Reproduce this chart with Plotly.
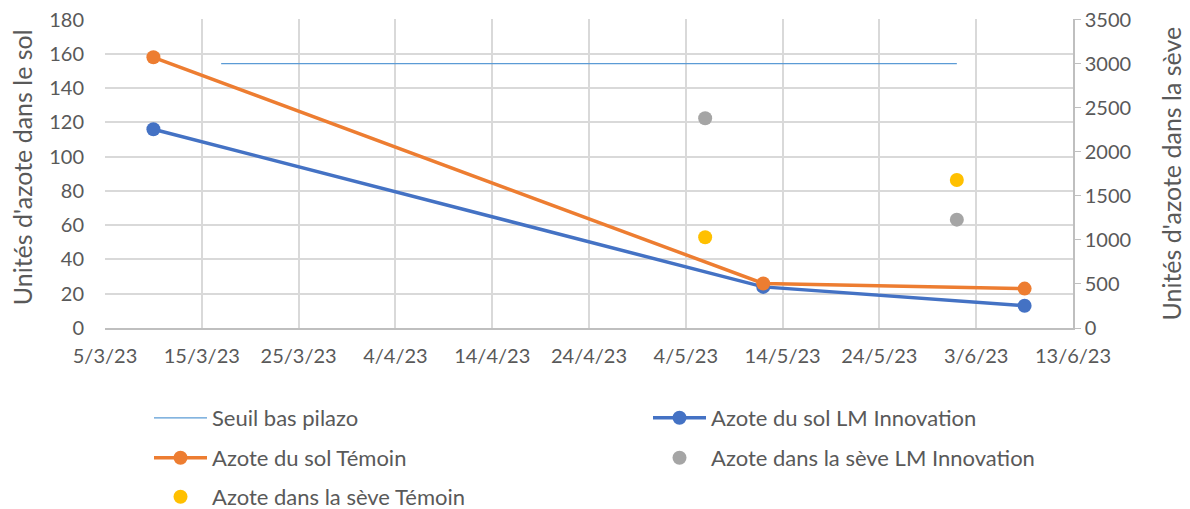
import plotly.graph_objects as go

# dates of the soil samples and sap samples
soil_dates = ["2023-03-10", "2023-05-12", "2023-06-08"]
soil_lm = [116, 24, 13]
soil_temoin = [158, 26, 23]

sap_dates = ["2023-05-06", "2023-06-01"]
sap_lm = [2380, 1230]
sap_temoin = [1030, 1680]

seuil_dates = ["2023-03-17", "2023-06-01"]
seuil_vals = [3000, 3000]

BLUE = "#4472C4"
ORANGE = "#ED7D31"
GREY = "#A5A5A5"
YELLOW = "#FFC000"
TXT = "#595959"
GRID = "#D9D9D9"

W, H = 1190, 509
OFF = 8  # page body margin
PAD = 1.002  # tiny headroom so the top gridline / labels are drawn

fig = go.Figure()
fig.add_trace(go.Scatter(x=seuil_dates, y=seuil_vals, name="Seuil bas pilazo", mode="lines",
                         line=dict(color="#5B9BD5", width=1.2), yaxis="y2", legend="legend"))
fig.add_trace(go.Scatter(x=soil_dates, y=soil_lm, name="Azote du sol LM Innovation", mode="lines+markers",
                         line=dict(color=BLUE, width=3.5), marker=dict(size=14, color=BLUE), legend="legend2"))
fig.add_trace(go.Scatter(x=soil_dates, y=soil_temoin, name="Azote du sol Témoin", mode="lines+markers",
                         line=dict(color=ORANGE, width=3.5), marker=dict(size=14, color=ORANGE), legend="legend3"))
fig.add_trace(go.Scatter(x=sap_dates, y=sap_lm, name="Azote dans la sève LM Innovation", mode="markers",
                         marker=dict(size=14, color=GREY), yaxis="y2", legend="legend4"))
fig.add_trace(go.Scatter(x=sap_dates, y=sap_temoin, name="Azote dans la sève Témoin", mode="markers",
                         marker=dict(size=14, color=YELLOW), yaxis="y2", legend="legend5"))

# one legend box per entry so the two-column grid matches the reference
leg = dict(orientation="v", xanchor="left", yanchor="middle", xref="container", yref="container",
           itemwidth=53, font=dict(size=22, color=TXT), bgcolor="rgba(0,0,0,0)")
col1, col2 = 141 / W, 640 / W
row1, row2, row3 = [(H - (r - OFF)) / H for r in (418, 458, 497)]

fig.update_layout(
    width=W, height=H,
    template="plotly_white",
    showlegend=True,
    font=dict(family="Lato, Open Sans, sans-serif", size=20, color=TXT),
    margin=dict(l=105 - OFF, r=117 + OFF, t=19 - OFF, b=181 + OFF, autoexpand=False),
    plot_bgcolor="white", paper_bgcolor="white",
    xaxis=dict(type="date", range=["2023-03-05", "2023-06-13"], tick0="2023-03-05", dtick=10 * 86400000,
               tickformat="%-d/%-m/%y", showgrid=True, gridcolor=GRID, gridwidth=1.5, automargin=False,
               showline=True, linecolor="#BFBFBF", linewidth=1.5, ticks="outside", ticklen=9,
               tickcolor="rgba(0,0,0,0)", zeroline=False, tickfont=dict(size=20, color=TXT),
               ticklabeloverflow="allow"),
    yaxis=dict(range=[0, 180 * PAD], dtick=20, showgrid=True, gridcolor=GRID, gridwidth=1.5, zeroline=False,
               showline=False, automargin=False, ticks="outside", ticklen=16, tickcolor="rgba(0,0,0,0)",
               tickfont=dict(size=20, color=TXT), ticklabeloverflow="allow"),
    yaxis2=dict(range=[0, 3500 * PAD], dtick=500, overlaying="y", side="right", showgrid=False, zeroline=False,
                showline=True, linecolor="#BFBFBF", linewidth=1.5, ticks="outside", ticklen=6, tickcolor="#BFBFBF",
                automargin=False, tickfont=dict(size=20, color=TXT), ticklabeloverflow="allow"),
    legend=dict(leg, x=col1, y=row1),
    legend2=dict(leg, x=col2, y=row1),
    legend3=dict(leg, x=col1, y=row2),
    legend4=dict(leg, x=col2, y=row2),
    legend5=dict(leg, x=col1, y=row3),
)

# axis titles
plot_w = W - (105 - OFF) - (117 + OFF)
fig.add_annotation(text="Unités d'azote dans le sol", textangle=-90, showarrow=False,
                   xref="paper", yref="paper", x=(22 - 105) / plot_w, y=0.52,
                   xanchor="center", yanchor="middle", font=dict(size=25, color=TXT))
fig.add_annotation(text="Unités d'azote dans la sève", textangle=-90, showarrow=False,
                   xref="paper", yref="paper", x=(1170 - 105) / plot_w, y=0.5,
                   xanchor="center", yanchor="middle", font=dict(size=25, color=TXT))

fig.write_html("out.html")
